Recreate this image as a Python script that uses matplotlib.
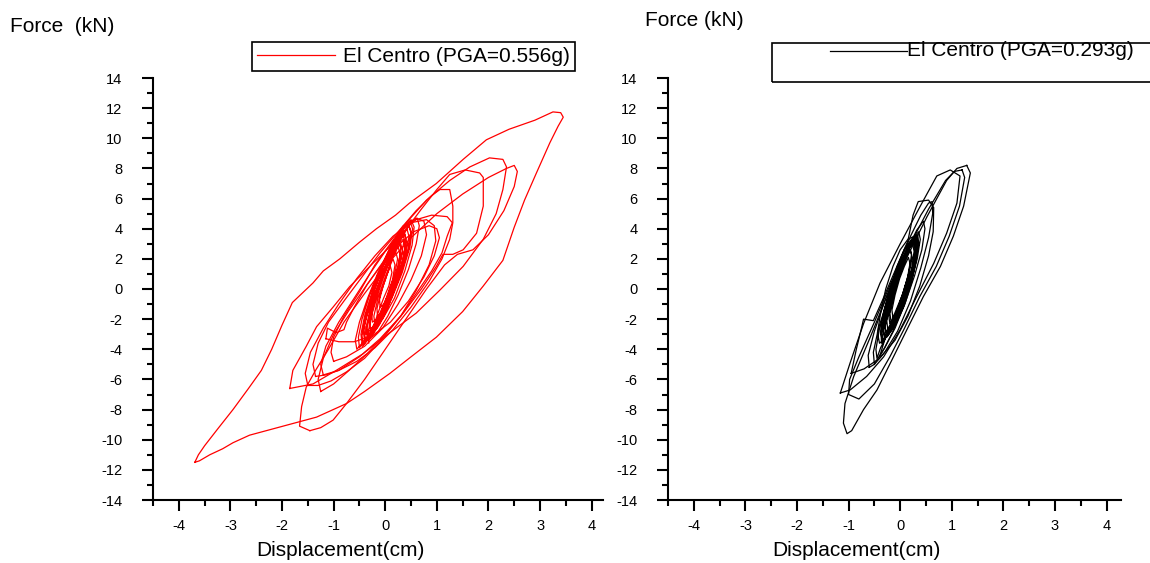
import matplotlib.pyplot as plt
from matplotlib.ticker import MultipleLocator
from matplotlib.patches import Rectangle
from matplotlib.lines import Line2D

plt.rcParams['font.family'] = ['Liberation Sans', 'DejaVu Sans']
plt.rcParams['axes.unicode_minus'] = False

# El Centro PGA=0.556g (red) - displacement (cm) / force (kN)
red_outer_d = [-3.69, -3.62, -3.5, -3.25, -2.95, -2.65, -2.4, -2.2, -2.0, -1.8,
               -1.4, -1.2, -0.88, -0.5, -0.17, 0.2, 0.47, 0.99, 1.51, 1.96,
               2.4, 2.9, 3.25, 3.4, 3.45, 3.35, 3.19, 2.93, 2.7, 2.5,
               2.28, 1.9, 1.5, 0.99, 0.5, 0.09, -0.4, -0.75, -1.33, -1.98,
               -2.63, -2.95, -3.15, -3.4, -3.6, -3.69]
red_outer_f = [-11.5, -11.0, -10.4, -9.3, -8.0, -6.6, -5.4, -4.0, -2.4, -0.9,
               0.4, 1.2, 2.0, 3.1, 4.0, 4.9, 5.7, 7.0, 8.6, 9.9,
               10.6, 11.2, 11.75, 11.7, 11.4, 10.8, 9.7, 7.7, 5.9, 4.1,
               1.9, 0.2, -1.5, -3.2, -4.5, -5.6, -6.8, -7.6, -8.5, -9.1,
               -9.7, -10.2, -10.6, -11.0, -11.4, -11.5]

red_loop2_d = [-1.85, -1.79, -1.53, -1.33, -1.01, -0.69, -0.3, 0.09, 0.41, 0.8,
               1.25, 1.64, 2.02, 2.28, 2.35, 2.28, 2.15, 1.9, 1.51, 1.06,
               0.6, 0.09, -0.43, -0.95, -1.4, -1.85]
red_loop2_f = [-6.6, -5.4, -3.8, -2.5, -1.2, 0.15, 1.5, 2.8, 4.4, 5.9,
               7.2, 8.1, 8.7, 8.6, 8.1, 6.6, 5.0, 3.3, 1.5, -0.07,
               -1.6, -2.9, -4.3, -5.4, -6.3, -6.6]

red_loop3_d = [-1.46, -1.66, -1.62, -1.53, -1.35, -1.1, -0.8, -0.4, 0.0, 0.5,
               1.0, 1.5, 2.0, 2.35, 2.5, 2.56, 2.5, 2.3, 2.0, 1.7,
               1.4, 1.15, 0.8, 0.4, 0.0, -0.4, -0.75, -1.01, -1.25, -1.46]
red_loop3_f = [-9.4, -9.1, -7.8, -6.5, -5.4, -4.0, -2.2, -0.3, 1.5, 3.4,
               5.0, 6.3, 7.4, 8.0, 8.2, 7.8, 6.8, 5.2, 3.6, 2.6,
               2.3, 1.6, 0.0, -2.0, -4.0, -6.0, -7.6, -8.7, -9.2, -9.4]

red_loop4_d = [-1.25, -1.3, -1.2, -1.0, -0.7, -0.35, 0.0, 0.35, 0.7, 1.0,
               1.25, 1.55, 1.83, 1.9, 1.9, 1.77, 1.51, 1.31, 1.12, 0.99,
               0.7, 0.35, 0.0, -0.35, -0.7, -1.0, -1.25]
red_loop4_f = [-6.8, -6.0, -4.6, -3.0, -1.4, 0.3, 2.0, 3.7, 5.3, 6.6,
               7.6, 7.9, 7.7, 7.4, 5.5, 3.7, 2.6, 2.3, 2.3, 1.5,
               0.0, -1.6, -3.0, -4.3, -5.4, -6.3, -6.8]

red_loop5_d = [-1.35, -1.4, -1.3, -1.1, -0.8, -0.45, -0.1, 0.25, 0.6, 0.9,
               1.06, 1.25, 1.31, 1.31, 1.25, 1.1, 0.85, 0.5, 0.15, -0.2,
               -0.55, -0.9, -1.15, -1.35]
red_loop5_f = [-5.8, -5.0, -3.6, -2.2, -0.8, 0.8, 2.4, 3.8, 5.2, 6.2,
               6.6, 6.6, 5.5, 4.4, 3.3, 2.0, 0.5, -1.2, -2.7, -3.9,
               -4.8, -5.4, -5.7, -5.8]

red_mid1_d = [-1.2, -1.25, -1.15, -0.9, -0.6, -0.3, 0.0, 0.3, 0.6, 0.9,
              1.2, 1.3, 1.2, 1.1, 0.9, 0.6, 0.3, -0.1, -0.5, -0.9, -1.2]
red_mid1_f = [-5.7, -5.0, -3.8, -2.2, -0.6, 1.0, 2.5, 3.8, 4.6, 4.9,
              4.8, 4.4, 3.5, 2.4, 1.2, -0.3, -1.8, -3.3, -4.5, -5.4, -5.7]

red_mid2_d = [-1.0, -1.05, -1.0, -0.8, -0.5, -0.2, 0.1, 0.35, 0.6, 0.75,
              0.8, 0.7, 0.5, 0.25, -0.05, -0.4, -0.75, -1.0]
red_mid2_f = [-4.8, -4.2, -3.2, -1.8, -0.2, 1.6, 3.0, 4.2, 4.7, 4.5,
              3.6, 2.2, 0.6, -1.0, -2.6, -3.8, -4.5, -4.8]

red_mid3_d = [-1.15, -1.12, -0.95, -0.8, -0.75, -0.6, -0.35, -0.05, 0.25, 0.55,
              0.85, 1.0, 1.05, 0.95, 0.75, 0.45, 0.1, -0.25, -0.6, -0.9, -1.15]
red_mid3_f = [-3.3, -2.6, -2.9, -2.7, -2.2, -1.2, 0.3, 1.7, 2.9, 3.8,
              4.2, 4.0, 3.4, 2.2, 0.8, -0.8, -2.2, -3.1, -3.5, -3.5, -3.3]

red_mid4_d = [-1.5, -1.55, -1.45, -1.2, -0.9, -0.55, -0.2, 0.15, 0.5, 0.8,
              0.95, 0.98, 0.85, 0.6, 0.3, -0.05, -0.4, -0.75, -1.05, -1.3, -1.5]
red_mid4_f = [-6.4, -5.6, -4.2, -2.6, -1.0, 0.7, 2.2, 3.5, 4.4, 4.6,
              4.2, 3.2, 1.6, -0.1, -1.8, -3.3, -4.6, -5.5, -6.1, -6.4, -6.4]

# small cycles in the middle, one line per cycle
red_core_d = [
    -0.45, -0.47, -0.4, -0.25, -0.05, 0.15, 0.32, 0.45, 0.5, 0.45, 0.3, 0.1, -0.1, -0.28,
    -0.35, -0.37, -0.28, -0.12, 0.05, 0.22, 0.38, 0.42, 0.35, 0.2, 0.0, -0.2, -0.4,
    -0.5, -0.52, -0.45, -0.3, -0.1, 0.1, 0.3, 0.5, 0.56, 0.52, 0.38, 0.18, -0.05, -0.22,
    -0.3, -0.31, -0.22, -0.08, 0.08, 0.2, 0.3, 0.34, 0.27, 0.12, -0.06, -0.25, -0.4,
    -0.4, -0.43, -0.35, -0.2, -0.02, 0.17, 0.32, 0.42, 0.46, 0.4, 0.25, 0.05, -0.12,
    -0.25, -0.26, -0.18, -0.06, 0.07, 0.2, 0.24, 0.18, 0.05, -0.1, -0.28, -0.38,
    -0.38, -0.4, -0.3, -0.14, 0.04, 0.2, 0.35, 0.39, 0.32, 0.16, -0.03, -0.15,
    -0.2, -0.22, -0.14, 0.0, 0.13, 0.25, 0.29, 0.22, 0.08, -0.12, -0.35,
    -0.55, -0.58, -0.5, -0.34, -0.14, 0.08, 0.28, 0.48, 0.53, 0.48, 0.33, 0.13, -0.05,
    -0.15, -0.16, -0.09, 0.02, 0.1, 0.15, 0.19, 0.14, 0.02, -0.14, -0.3,
    -0.32, -0.34, -0.26, -0.12, 0.04, 0.18, 0.33, 0.37, 0.3, 0.15, -0.02,
    -0.1, -0.11, -0.04, 0.04, 0.1, 0.13, 0.07, -0.03, -0.12, -0.22,
    -0.3, -0.35, -0.28, -0.1, 0.12, 0.35, 0.5, 0.62, 0.66, 0.6, 0.45, 0.25, 0.05, -0.15, -0.3,
    -0.38, -0.42, -0.36, -0.22, -0.05, 0.12, 0.27, 0.36, 0.4, 0.36, 0.24, 0.08, -0.1, -0.26,
    -0.28, -0.3, -0.24, -0.12, 0.02, 0.15, 0.26, 0.3, 0.26, 0.15, 0.0, -0.14, -0.3,
    -0.42, -0.45, -0.37, -0.2, 0.0, 0.2, 0.36, 0.46, 0.5, 0.44, 0.28, 0.08, -0.12, -0.3, -0.44,
]
red_core_f = [
    -3.6, -3.0, -1.8, -0.2, 1.5, 2.9, 3.9, 4.3, 3.8, 2.6, 1.0, -0.8, -2.2, -3.1,
    -3.2, -2.5, -1.2, 0.4, 1.9, 3.0, 3.6, 3.0, 1.8, 0.2, -1.4, -2.6, -3.5,
    -3.9, -3.2, -2.0, -0.4, 1.3, 2.8, 3.9, 4.6, 4.1, 2.9, 1.2, -0.6, -2.0, -2.6,
    -2.6, -2.0, -0.8, 0.6, 1.9, 2.6, 3.0, 2.5, 1.3, -0.2, -1.6, -2.8, -3.4,
    -3.4, -2.7, -1.5, 0.1, 1.7, 2.9, 3.6, 4.0, 3.5, 2.3, 0.7, -0.9, -1.9,
    -2.2, -1.6, -0.5, 0.7, 1.7, 2.5, 2.0, 0.9, -0.4, -1.7, -2.7, -3.0,
    -3.0, -2.4, -1.0, 0.5, 1.9, 2.8, 3.3, 2.8, 1.6, 0.0, -1.5, -2.2,
    -2.4, -1.8, -0.6, 0.8, 2.0, 2.8, 2.3, 1.1, -0.4, -1.9, -3.2,
    -4.0, -3.4, -2.2, -0.6, 1.1, 2.6, 3.8, 4.5, 4.0, 2.8, 1.1, -0.6, -1.5,
    -1.8, -1.3, -0.3, 0.8, 1.6, 2.0, 1.6, 0.6, -0.6, -1.9, -3.0,
    -3.6, -3.0, -1.7, -0.1, 1.5, 2.8, 3.8, 3.3, 2.0, 0.4, -1.0,
    -1.2, -0.7, 0.2, 1.0, 1.5, 1.1, 0.2, -0.6, -1.4, -2.4,
    -3.3, -2.6, -1.2, 0.5, 2.2, 3.6, 4.4, 4.7, 4.2, 3.0, 1.3, -0.4, -1.8, -2.9, -3.3,
    -3.3, -2.7, -1.5, 0.0, 1.5, 2.7, 3.5, 3.9, 3.4, 2.2, 0.6, -1.0, -2.3, -3.1,
    -2.9, -2.3, -1.1, 0.3, 1.6, 2.6, 3.2, 2.7, 1.5, 0.0, -1.4, -2.5, -3.2,
    -3.7, -3.1, -1.9, -0.3, 1.3, 2.7, 3.7, 4.2, 3.7, 2.5, 0.9, -0.8, -2.2, -3.2, -3.8,
]

# El Centro PGA=0.293g (black)
blk_outer_d = [1.29, 1.36, 1.23, 1.03, 0.78, 0.45, 0.13, -0.13, -0.45, -0.71,
               -0.94, -1.03, -1.1, -1.07, -0.9, -0.58, -0.26, 0.13, 0.52, 0.9,
               1.1, 1.29]
blk_outer_f = [8.2, 7.7, 5.5, 3.5, 1.5, -0.5, -2.7, -4.5, -6.7, -8.0,
               -9.4, -9.6, -8.9, -7.6, -5.8, -3.2, -0.5, 2.1, 4.8, 7.2,
               8.0, 8.2]

blk_loop1b_d = [1.2, 1.25, 1.15, 0.95, 0.7, 0.38, 0.07, -0.2, -0.5, -0.8,
                -1.0, -0.98, -0.8, -0.5, -0.18, 0.2, 0.55, 0.88, 1.05, 1.2]
blk_loop1b_f = [7.9, 7.4, 5.5, 3.5, 1.5, -0.5, -2.7, -4.5, -6.3, -7.3,
                -7.0, -6.0, -4.5, -2.2, 0.4, 3.0, 5.3, 7.2, 7.8, 7.9]

blk_loop2_d = [-1.16, -0.97, -0.71, -0.39, 0.0, 0.39, 0.71, 0.97, 1.16, 1.1,
               0.9, 0.65, 0.32, 0.0, -0.32, -0.65, -0.97, -1.16]
blk_loop2_f = [-6.9, -4.9, -2.3, 0.4, 3.0, 5.5, 7.5, 7.9, 7.5, 5.7,
               3.7, 1.7, -0.5, -2.7, -4.5, -5.8, -6.7, -6.9]

blk_loop3_d = [-0.95, -0.85, -0.75, -0.71, -0.52, -0.35, -0.1, 0.15, 0.25, 0.35,
               0.55, 0.65, 0.64, 0.55, 0.38, 0.15, -0.1, -0.4, -0.7, -0.95]
blk_loop3_f = [-5.6, -4.0, -2.6, -2.0, -2.1, -0.8, 1.2, 3.2, 4.9, 5.8,
               5.9, 5.4, 3.8, 2.2, 0.2, -1.8, -3.4, -4.6, -5.3, -5.6]

blk_loop4_d = [-0.6, -0.62, -0.5, -0.3, -0.05, 0.2, 0.4, 0.55, 0.62, 0.63,
               0.55, 0.4, 0.2, -0.05, -0.3, -0.5, -0.6]
blk_loop4_f = [-5.2, -4.4, -2.8, -0.8, 1.4, 3.5, 4.9, 5.7, 5.8, 5.0,
               3.4, 1.4, -0.8, -2.8, -4.2, -5.0, -5.2]

blk_loop5_d = [-0.5, -0.52, -0.42, -0.25, -0.05, 0.15, 0.32, 0.45, 0.48, 0.42,
               0.28, 0.1, -0.1, -0.3, -0.45, -0.5]
blk_loop5_f = [-5.0, -4.2, -2.6, -0.8, 1.0, 2.7, 3.9, 4.5, 4.0, 2.6,
               0.9, -0.9, -2.6, -3.9, -4.7, -5.0]

blk_core_d = [
    -0.33, -0.35, -0.28, -0.16, -0.02, 0.13, 0.24, 0.3, 0.33, 0.29, 0.18, 0.03, -0.12, -0.25,
    -0.27, -0.29, -0.22, -0.1, 0.03, 0.16, 0.26, 0.29, 0.24, 0.12, -0.02, -0.18,
    -0.3, -0.32, -0.25, -0.12, 0.03, 0.18, 0.28, 0.34, 0.36, 0.3, 0.18, 0.02, -0.1,
    -0.2, -0.22, -0.15, -0.05, 0.07, 0.15, 0.2, 0.23, 0.17, 0.06, -0.08, -0.22,
    -0.36, -0.37, -0.3, -0.18, -0.03, 0.12, 0.25, 0.32, 0.35, 0.3, 0.18, 0.02, -0.08,
    -0.14, -0.16, -0.1, -0.01, 0.08, 0.16, 0.19, 0.14, 0.04, -0.08, -0.2,
    -0.28, -0.3, -0.23, -0.11, 0.03, 0.16, 0.28, 0.31, 0.25, 0.13, -0.02, -0.18, -0.38,
    -0.45, -0.47, -0.4, -0.26, -0.08, 0.1, 0.25, 0.36, 0.39, 0.33, 0.2, 0.03, -0.14, -0.3, -0.4,
    -0.24, -0.26, -0.2, -0.09, 0.04, 0.15, 0.24, 0.27, 0.22, 0.1, -0.04, -0.16,
    -0.18, -0.2, -0.13, -0.03, 0.08, 0.18, 0.22, 0.17, 0.06, -0.06, -0.18, -0.33,
    -0.4, -0.44, -0.38, -0.28, -0.14, 0.0, 0.15, 0.27, 0.31, 0.29, 0.2, 0.06, -0.1, -0.26,
    -0.3, -0.34, -0.28, -0.18, -0.05, 0.08, 0.2, 0.26, 0.3, 0.25, 0.14, 0.0, -0.14, -0.3,
    -0.35, -0.38, -0.32, -0.2, -0.06, 0.09, 0.22, 0.3, 0.34, 0.31, 0.22, 0.08, -0.08, -0.24, -0.35,
]
blk_core_f = [
    -3.5, -2.9, -1.6, 0.0, 1.5, 2.6, 3.2, 3.4, 2.9, 1.8, 0.3, -1.2, -2.4, -3.1,
    -3.1, -2.5, -1.3, 0.2, 1.6, 2.6, 3.1, 2.6, 1.4, 0.0, -1.4, -2.6,
    -3.3, -2.7, -1.4, 0.1, 1.6, 2.8, 3.4, 3.6, 3.0, 1.8, 0.2, -1.3, -2.0,
    -2.3, -1.8, -0.7, 0.5, 1.6, 2.3, 2.6, 2.1, 1.0, -0.3, -1.6, -2.7,
    -3.6, -3.0, -1.7, -0.1, 1.4, 2.6, 3.3, 3.5, 3.0, 1.8, 0.2, -1.2, -1.7,
    -1.9, -1.4, -0.4, 0.7, 1.5, 2.1, 1.7, 0.7, -0.4, -1.4, -2.4,
    -2.9, -2.3, -1.1, 0.3, 1.6, 2.6, 3.2, 2.7, 1.5, 0.0, -1.4, -2.6, -3.9,
    -4.6, -4.0, -2.6, -0.8, 1.0, 2.4, 3.4, 3.8, 3.3, 2.0, 0.3, -1.4, -2.8, -3.9, -4.5,
    -2.7, -2.1, -1.0, 0.4, 1.7, 2.6, 3.0, 2.5, 1.3, -0.1, -1.5, -2.5,
    -2.1, -1.6, -0.5, 0.8, 1.9, 2.7, 2.3, 1.1, -0.2, -1.4, -2.5, -3.4,
    -3.6, -2.9, -1.6, 0.0, 1.5, 2.6, 3.3, 3.5, 2.9, 1.8, 0.3, -1.2, -2.4, -3.2,
    -3.2, -2.6, -1.3, 0.1, 1.5, 2.6, 3.1, 3.3, 2.7, 1.6, 0.1, -1.3, -2.5, -3.3,
    -3.4, -2.8, -1.5, 0.0, 1.5, 2.7, 3.3, 3.5, 3.0, 1.9, 0.4, -1.1, -2.3, -3.1, -3.4,
]

red_loops = [(red_outer_d, red_outer_f), (red_loop2_d, red_loop2_f),
             (red_loop3_d, red_loop3_f), (red_loop4_d, red_loop4_f),
             (red_loop5_d, red_loop5_f), (red_mid1_d, red_mid1_f),
             (red_mid2_d, red_mid2_f), (red_mid3_d, red_mid3_f),
             (red_mid4_d, red_mid4_f), (red_core_d, red_core_f)]
blk_loops = [(blk_outer_d, blk_outer_f), (blk_loop1b_d, blk_loop1b_f),
             (blk_loop2_d, blk_loop2_f), (blk_loop3_d, blk_loop3_f),
             (blk_loop4_d, blk_loop4_f), (blk_loop5_d, blk_loop5_f),
             (blk_core_d, blk_core_f)]

W, H = 1150, 563
fig = plt.figure(figsize=(W / 100, H / 100), dpi=100)
ax1 = fig.add_axes([153 / W, 63 / H, 450 / W, 422 / H])
ax2 = fig.add_axes([668 / W, 63 / H, 453 / W, 422 / H])


def style_axis(ax, xmax):
    ax.set_xlim(-4.5, xmax)
    ax.set_ylim(-14, 14)
    for s in ['top', 'right']:
        ax.spines[s].set_visible(False)
    for s in ['left', 'bottom']:
        ax.spines[s].set_linewidth(1.5)
    ax.xaxis.set_major_locator(MultipleLocator(1))
    ax.xaxis.set_minor_locator(MultipleLocator(0.5))
    ax.yaxis.set_major_locator(MultipleLocator(2))
    ax.yaxis.set_minor_locator(MultipleLocator(1))
    ax.tick_params(which='major', direction='out', length=8, width=1.5, labelsize=10.5)
    ax.tick_params(which='minor', direction='out', length=4, width=1.5)
    ax.tick_params(axis='x', which='major', pad=6)
    ax.tick_params(axis='y', which='major', pad=14)


for i, (d, f) in enumerate(red_loops):
    ax1.plot(d, f, color='#ff0000', lw=0.9, label='El Centro (PGA=0.556g)' if i == 0 else None)
for d, f in blk_loops:
    ax2.plot(d, f, color='black', lw=0.9)

style_axis(ax1, 4.22)
style_axis(ax2, 4.28)

# legenda da esquerda
leg = ax1.legend(loc='upper left', bbox_to_anchor=(252 / W, 1 - 42 / H),
                 bbox_transform=fig.transFigure, fontsize=15, handlelength=3.75,
                 handletextpad=0.35, borderpad=0.25, borderaxespad=0,
                 fancybox=False, edgecolor='black', framealpha=1)
leg.get_frame().set_linewidth(1.2)

# legenda da direita (caixa cortada na borda)
fig.add_artist(Rectangle((772 / W, 1 - 82 / H), 400 / W, 39 / H, fill=False,
                         edgecolor='black', lw=1.2, transform=fig.transFigure))
fig.add_artist(Line2D([830 / W, 907 / W], [1 - 51 / H, 1 - 51 / H], color='black',
                      lw=0.9, transform=fig.transFigure))
fig.text(907 / W, 1 - 51 / H, 'El Centro (PGA=0.293g)', fontsize=15, ha='left', va='center')

# titulos dos eixos
fig.text(10 / W, 1 - 27 / H, 'Force  (kN)', fontsize=15, ha='left', va='center')
fig.text(645 / W, 1 - 20 / H, 'Force (kN)', fontsize=15, ha='left', va='center')
fig.text(340 / W, 1 - 550 / H, 'Displacement(cm)', fontsize=15, ha='center', va='center')
fig.text(856 / W, 1 - 550 / H, 'Displacement(cm)', fontsize=15, ha='center', va='center')

fig.savefig('out.png', dpi=100, facecolor='white')
